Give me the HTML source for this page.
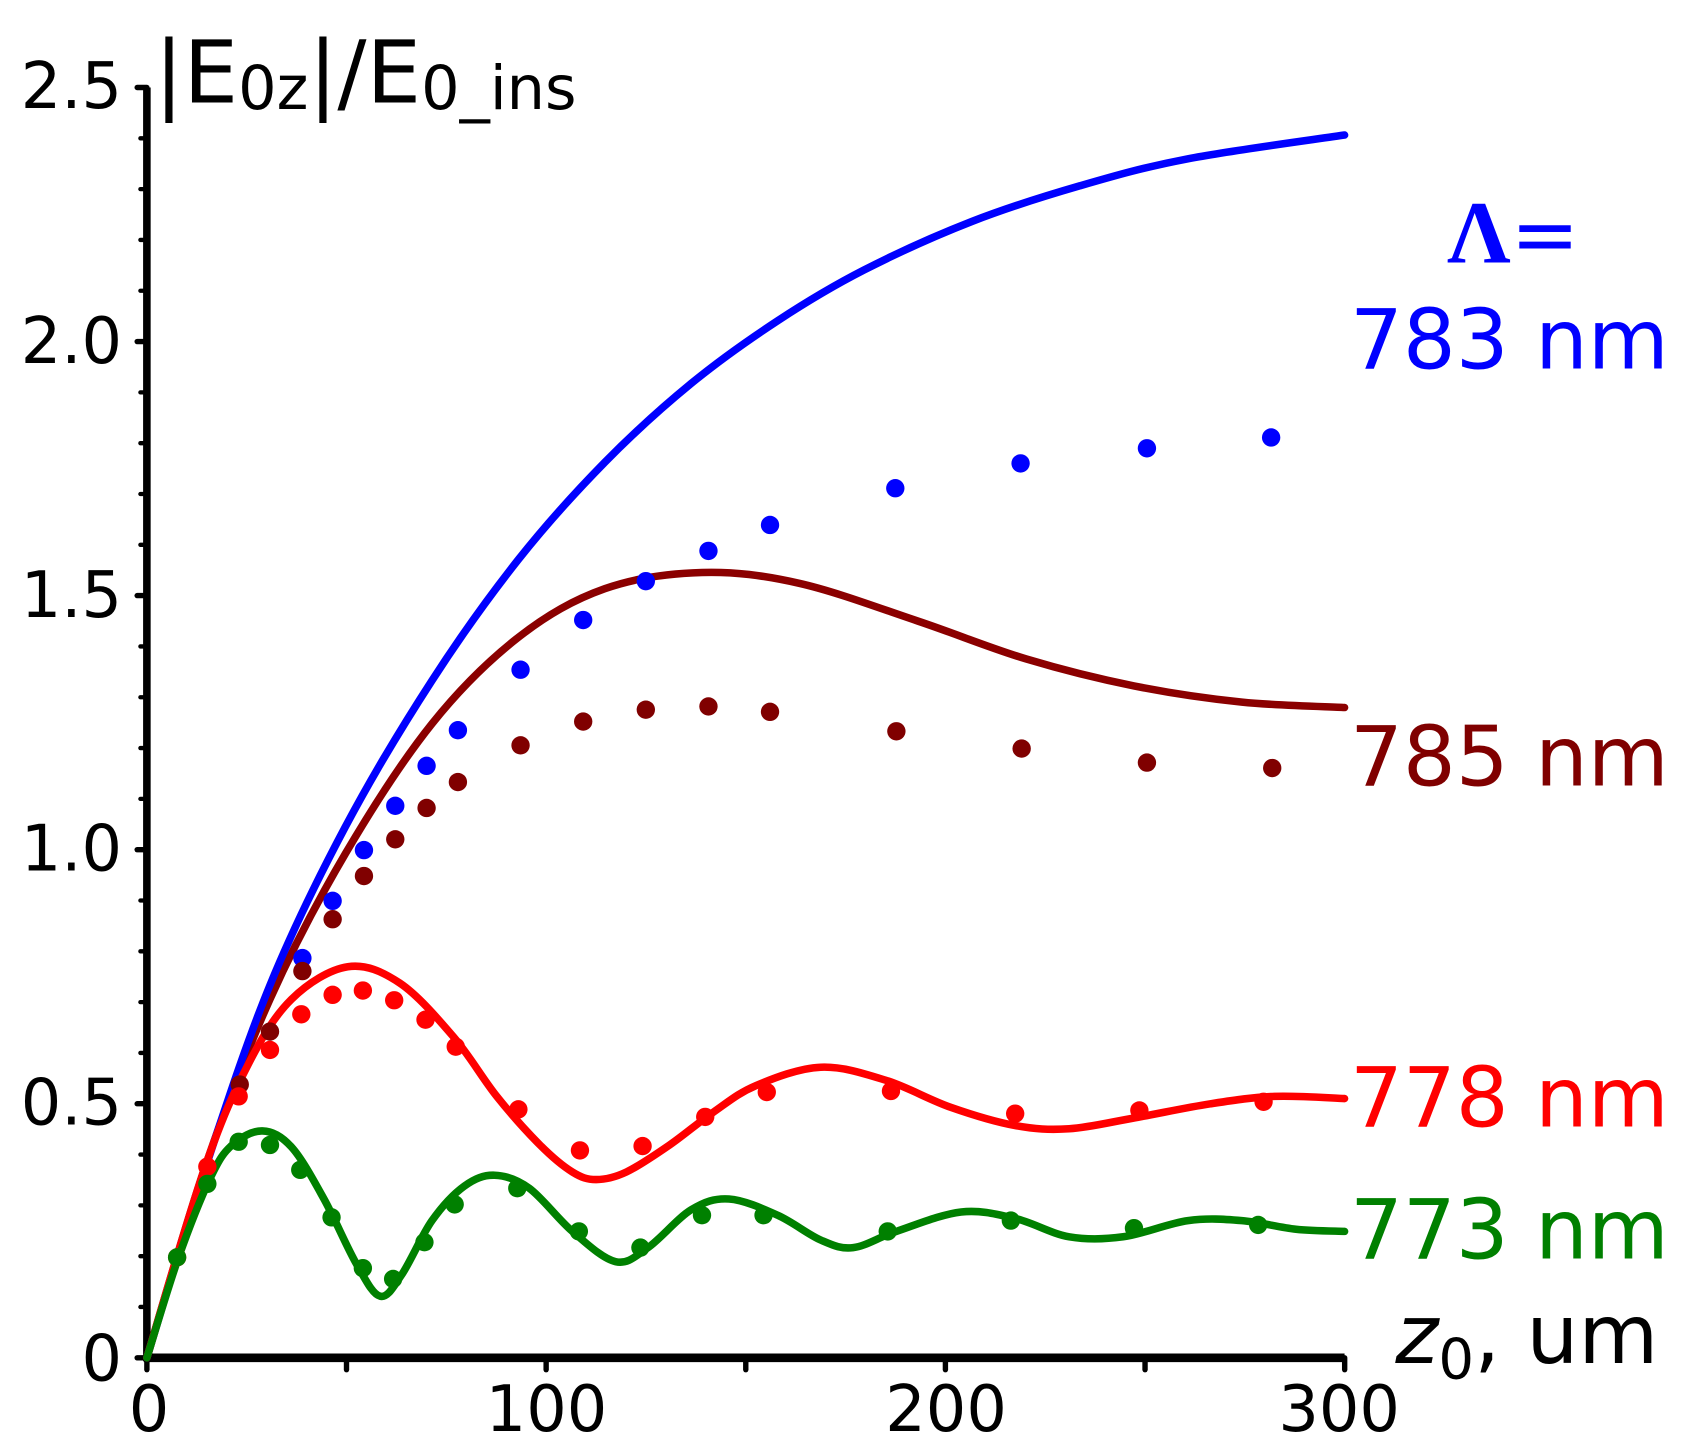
<!DOCTYPE html>
<html><head><meta charset="utf-8">
<style>html,body{margin:0;padding:0;background:#fff;width:1688px;height:1455px;overflow:hidden}
svg{display:block}
text{font-family:"DejaVu Sans","Liberation Sans",sans-serif}
</style></head><body>
<svg id="s" width="1688" height="1455" viewBox="0 0 1563 1347" preserveAspectRatio="none" xmlns="http://www.w3.org/2000/svg">
<g id="ticks" stroke="#000" stroke-width="4" stroke-linecap="round"></g>
<line x1="136" y1="81" x2="136" y2="1260" stroke="#000" stroke-width="7"/>
<line x1="133" y1="1257" x2="1245" y2="1257" stroke="#000" stroke-width="8"/>
<g font-size="59" fill="#000">
<text x="113" y="100" text-anchor="end">2.5</text>
<text x="113" y="336" text-anchor="end">2.0</text>
<text x="113" y="571" text-anchor="end">1.5</text>
<text x="113" y="806" text-anchor="end">1.0</text>
<text x="113" y="1041" text-anchor="end">0.5</text>
<text x="113" y="1278" text-anchor="end">0</text>
<text x="138" y="1325" text-anchor="middle">0</text>
<text x="506" y="1325" text-anchor="middle">100</text>
<text x="876" y="1325" text-anchor="middle">200</text>
<text x="1240" y="1325" text-anchor="middle">300</text>
</g>
<text x="143" y="95" font-size="80" fill="#000">|E<tspan font-size="56" dy="6">0z</tspan><tspan dy="-6">|/E</tspan><tspan font-size="56" dy="6">0_ins</tspan></text>
<text x="1292" y="1262" font-size="76" fill="#000"><tspan font-style="italic">z</tspan><tspan font-size="52" dy="14">0</tspan><tspan dy="-14">, um</tspan></text>
<text x="1340" y="243" fill="#0000ff" style="font-family:'Liberation Serif','DejaVu Serif',serif;font-size:82px;font-weight:bold">Λ<tspan style="font-family:'DejaVu Sans',sans-serif;font-weight:normal;font-size:76px">=</tspan></text>
<text x="1250" y="341" font-size="77" fill="#0000ff">783 nm</text>
<text x="1250" y="727" font-size="77" fill="#800000">785 nm</text>
<text x="1250" y="1043" font-size="77" fill="#ff0000">778 nm</text>
<text x="1250" y="1165" font-size="77" fill="#008000">773 nm</text>
<g id="curves" fill="none" stroke-width="7" stroke-linecap="round"></g>
<g id="dots"></g>
</svg>
<script>
var NS="http://www.w3.org/2000/svg";
function el(p,n,a){var e=document.createElementNS(NS,n);for(var k in a)e.setAttribute(k,a[k]);document.getElementById(p).appendChild(e);return e;}
for(var i=0;i<=25;i++){var y=1257-47.04*i;var major=(i%5==0);el("ticks","line",{x1:major?127:130,y1:y,x2:136,y2:y,"stroke-width":major?5:4});}
for(var j=0;j<=6;j++){var x=136+184.85*j;el("ticks","line",{x1:x,y1:1257,x2:x,y2:1268,"stroke-width":5});}
function cr(p){var d="M"+p[0][0]+","+p[0][1];for(var i=0;i<p.length-1;i++){var p0=p[i-1]||p[i],p1=p[i],p2=p[i+1],p3=p[i+2]||p2;
d+=" C"+(p1[0]+(p2[0]-p0[0])/6)+","+(p1[1]+(p2[1]-p0[1])/6)+" "+(p2[0]-(p3[0]-p1[0])/6)+","+(p2[1]-(p3[1]-p1[1])/6)+" "+p2[0]+","+p2[1];}return d;}
var C={
"#8b0000":[[136,1257],[190,1080],[250,925],[320,790],[400,670],[480,590],[560,545],[650,530],[740,540],[850,575],[950,610],[1050,635],[1150,650],[1245,655]],
"#0000ff":[[136,1257],[190,1082],[250,912],[320,765],[400,630],[480,518],[560,428],[640,355],[720,297],[800,250],[900,205],[1000,172],[1100,147],[1245,125]],
"#ff0000":[[136,1257],[190,1080],[230,985],[270,925],[322,895],[370,910],[420,960],[460,1015],[500,1060],[530,1085],[552,1092],[580,1085],[620,1060],[660,1030],[700,1005],[760,988],[820,1000],[880,1025],[940,1042],[990,1045],[1050,1035],[1120,1022],[1180,1015],[1245,1017]],
"#008000":[[136,1257],[165,1165],[195,1090],[215,1060],[243,1047],[270,1062],[300,1110],[330,1170],[352,1200],[372,1180],[400,1130],[430,1098],[458,1088],[490,1100],[530,1140],[570,1168],[600,1155],[640,1120],[675,1110],[720,1125],[760,1148],[790,1155],[830,1140],[890,1122],[940,1128],[990,1145],[1040,1145],[1100,1130],[1150,1130],[1200,1138],[1245,1140]]};
for(var c in C)el("curves","path",{d:cr(C[c]),stroke:c});
var D={
"#0000ff":[[280,887],[308,834],[337,787],[366,746],[395,709],[424,676],[482,620],[540,574],[598,538],[656,510],[713,486],[829,452],[945,429],[1062,415],[1177,405]],
"#800000":[[222,1004],[250,955],[280,899],[308,851],[337,811],[366,777],[395,748],[424,724],[482,690],[540,668],[598,657],[656,654],[713,659],[830,677],[946,693],[1062,706],[1178,711]],
"#ff0000":[[164,1164],[192,1080],[221,1015],[250,972],[279,939],[308,921],[336,917],[365,926],[394,944],[422,969],[480,1027],[537,1065],[595,1061],[653,1034],[710,1011],[825,1010],[940,1031],[1055,1028],[1170,1020]],
"#008000":[[164,1164],[192,1096],[221,1057],[250,1060],[278,1083],[307,1127],[336,1174],[364,1184],[393,1150],[421,1115],[479,1100],[536,1140],[593,1155],[650,1125],[707,1125],[822,1140],[936,1130],[1050,1137],[1165,1134]]};
for(var c in D)D[c].forEach(function(p){el("dots","circle",{cx:p[0],cy:p[1],r:8.5,fill:c});});
</script>
</body></html>
